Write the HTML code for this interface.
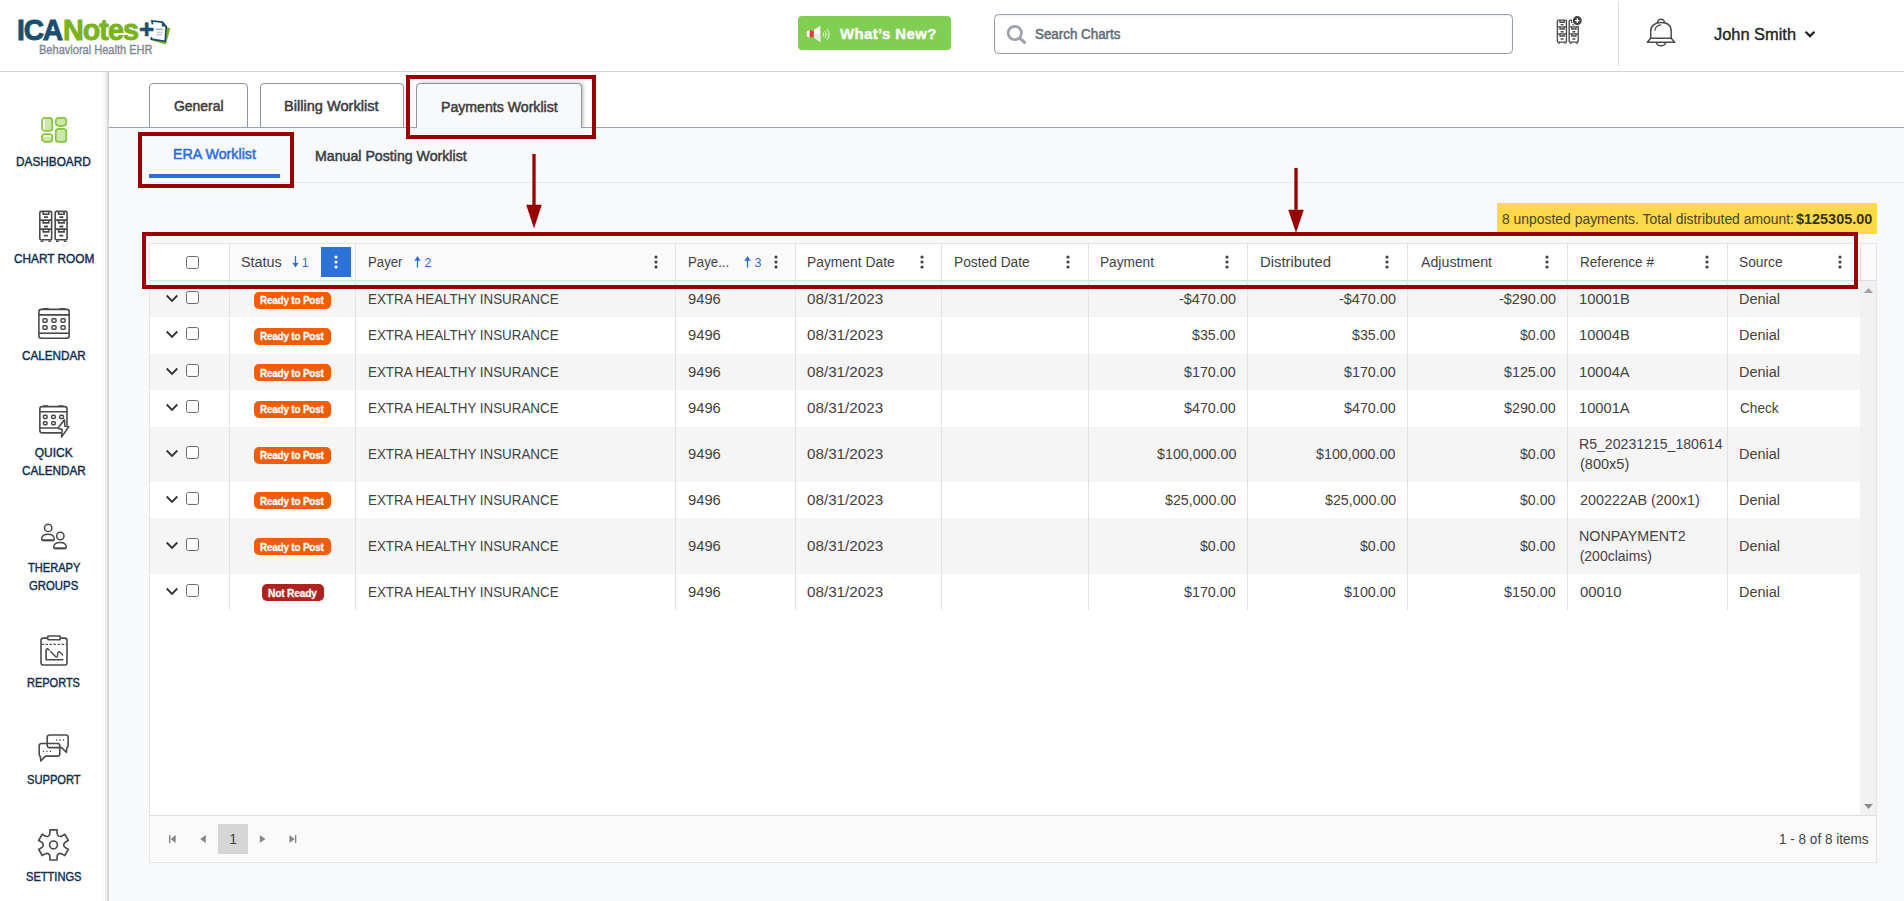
<!DOCTYPE html>
<html lang="en"><head><meta charset="utf-8"><title>ICANotes - Payments Worklist</title>
<style>
*{box-sizing:border-box;margin:0;padding:0}
html,body{width:1904px;height:901px;overflow:hidden;background:#f8f9fb;font-family:"Liberation Sans",sans-serif;color:#424242;font-size:14px}
#app{position:relative;width:1904px;height:901px;overflow:hidden;background:#f8f9fb}
.t{position:absolute;white-space:pre;line-height:1;transform-origin:0 50%;display:block}
.a{position:absolute;display:block}
.hdr{left:0;top:0;width:1904px;height:72px;background:#fff;border-bottom:1px solid #d4d4d4}
.side{left:0;top:72px;width:109px;height:829px;background:linear-gradient(to right,#fff 0,#fff 102px,#fbfbfb 104px,#ececec 106.5px,#d6d6d6 108px,#cecece 109px)}
.main{left:109px;top:72px;width:1795px;height:829px;background:#f8f9fb}
.strip{left:109px;top:72px;width:1795px;height:55px;background:#fff}
.stripline{left:109px;top:127px;width:1795px;height:1px;background:#98a1a9}
.tab{top:83px;height:45px;border:1px solid #8d969e;border-bottom:0;border-radius:4.500px 4.500px 0 0;background:#fff}
.tab.on{background:#f8f9fb;box-shadow:2px -1px 3px rgba(0,0,0,.2);height:45px}
.rb{border:4px solid #990000}
.cb{width:13px;height:13px;border:1px solid #6b6b6b;border-radius:2.5px;background:#fff}
.row{left:150px;width:1710px}
.vl{width:1px;background:#e2e2e2}
.badge{height:17px;border-radius:5px;background:#f25c05}
.dots{width:4px;height:14px}
</style></head>
<body><div id="app">
<div class="a side"></div>
<div class="a main"></div>
<div class="a strip"></div>
<header class="a hdr">
<span class="t" style="left:17.27px;top:15.00px;font-size:29.5px;font-weight:700;color:#1a4e6c;letter-spacing:-1.2px;transform:scaleX(0.9540);-webkit-text-stroke:.9px;">ICA</span>
<span class="t" style="left:63.14px;top:15.00px;font-size:29.5px;font-weight:700;color:#7ab31c;letter-spacing:-1px;transform:scaleX(0.9743);-webkit-text-stroke:.9px;">Notes</span>
<svg class="a" style="left:149.800px;top:18.700px" width="22" height="27" viewBox="0 0 22 27"><path d="M13 6 L20.400 9.400 L15.800 25.600 L2.500 21.600 L3 19 Z" fill="#7ab31c"/><path d="M1.900 2 L12.400 3.100 L16.200 7.500 L15.200 22.300 L1.200 20.200 Z" fill="#fff"/><path d="M2.500 5.400 L1.900 2 L12.400 3.100 L16.200 7.500 L15.200 22.300 L1.200 20.200 L1.600 18.200" fill="none" stroke="#1a4e6c" stroke-width="1.700" stroke-linejoin="miter"/><path d="M11.800 3 L16.200 7.600 H11.800 Z" fill="#1a4e6c"/><path d="M5.700 10.200 H12.800" stroke="#7f97ad" stroke-width="1.100"/><path d="M6.500 13.200 H12.800 M6.500 15.700 H12.500" stroke="#a9b9c8" stroke-width="1.100"/></svg>
<span class="t" style="left:139.05px;top:15.80px;font-size:26px;font-weight:700;color:#1a4e6c;-webkit-text-stroke:.6px;">+</span>
<span class="t" style="left:38.64px;top:44.00px;font-size:12.5px;color:#7f8b95;transform:scaleX(0.8831);-webkit-text-stroke:.4px;">Behavioral Health EHR</span>
<div class="a" style="left:798px;top:16px;width:153.300px;height:34px;background:#80cf53;border-radius:4px"></div>
<svg class="a" style="left:805px;top:24px" width="26" height="20" viewBox="0 0 26 20"><path d="M4.800 6.500 H3.500 Q1.800 6.500 1.800 8.200 V11.500 Q1.800 13.200 3.500 13.200 H4.800 Z" fill="#fff"/><rect x="4.700" y="6.500" width="4.300" height="6.700" fill="#e5393f"/><path d="M8.900 6 L15.300 1.800 V17.900 L8.900 13.700 Z" fill="#fff"/><path d="M8.900 9.850 H15.300 V17.900 L8.900 13.700 Z" fill="#e8e8e8"/><path d="M18 8.600 Q19.600 10.500 18 12.400 M20 6.900 Q22.600 10.500 20 14.100 M22.300 5.300 Q25.800 10.400 22.300 15.400" fill="none" stroke="#fff" stroke-width="1" opacity=".92"/></svg>
<span class="t" style="left:839.76px;top:26.90px;font-size:14.3px;font-weight:700;color:#fff;letter-spacing:0.4px;transform:scaleX(1.0413);-webkit-text-stroke:.35px;">What’s New?</span>
<div class="a" style="left:994px;top:14px;width:519px;height:40px;background:#fff;border:1px solid #919da9;border-radius:4.500px;box-shadow:inset 0 1px 2px rgba(0,0,0,.08)"></div>
<svg class="a" style="left:1005px;top:23px" width="23" height="23" viewBox="0 0 23 23"><circle cx="9.800" cy="10" r="6.650" fill="none" stroke="#9aa3ad" stroke-width="2.700"/><path d="M14.600 14.800 L20.500 20.400" stroke="#9aa3ad" stroke-width="3"/></svg>
<span class="t" style="left:1034.76px;top:27.00px;font-size:14px;color:#5f6b76;transform:scaleX(0.9551);-webkit-text-stroke:.5px;">Search Charts</span>
<svg class="a" style="left:1556.0px;top:18.9px" width="23.71" height="25.64" viewBox="0 0 31 33" preserveAspectRatio="none" fill="none" stroke="#4a4a4a" stroke-width="1.75"><rect x="1.80" y="1.4" width="11.850" height="28.400" rx="1.300"/><path d="M1.80 10.1 H13.65 M1.80 19.1 H13.65 M5.20 1.4 V4.20 H10.70 V1.4 M5.20 10.1 V12.90 H10.70 V10.1 M5.20 19.1 V21.90 H10.70 V19.1"/><path d="M6.00 7.2 H9.90 M6.00 16.5 H9.90 M6.00 25.7 H9.90" stroke-width="1.800"/><path d="M3.20 30.500 V31.400 H4.80 V30.500 M11.00 30.500 V31.400 H12.60 V30.500" stroke-width="1.200"/><rect x="17.20" y="1.4" width="11.850" height="28.400" rx="1.300"/><path d="M17.20 10.1 H29.05 M17.20 19.1 H29.05 M20.60 1.4 V4.20 H26.10 V1.4 M20.60 10.1 V12.90 H26.10 V10.1 M20.60 19.1 V21.90 H26.10 V19.1"/><path d="M21.40 7.2 H25.30 M21.40 16.5 H25.30 M21.40 25.7 H25.30" stroke-width="1.800"/><path d="M18.60 30.500 V31.400 H20.20 V30.500 M26.40 30.500 V31.400 H28.00 V30.500" stroke-width="1.200"/></svg>
<svg class="a" style="left:1571px;top:14px" width="13" height="13" viewBox="0 0 13 13"><circle cx="6.300" cy="6.600" r="5.300" fill="#fff"/><circle cx="6.300" cy="6.600" r="4.500" fill="#3f3f3f"/><path d="M4 6.600 H8.600 M6.300 4.300 V8.900" stroke="#fff" stroke-width="1.300"/></svg>
<div class="a" style="left:1618px;top:2px;width:1px;height:64px;background:#dcdfe2"></div>
<svg class="a" style="left:1646px;top:17px" width="30" height="31" viewBox="0 0 30 31" fill="none" stroke="#4a4a4a" stroke-width="1.5" stroke-linejoin="round"><path d="M11.500 6.300 C11.500 1 18.500 1 18.500 6.300"/><path d="M4.7 21.3 V14.5 C4.7 8.5 9 5.600 15 5.600 C21 5.600 25.200 8.5 25.200 14.5 V21.3"/><path d="M4.7 21.3 H25.200 L28.700 25.300 H1.300 Z"/><path d="M10.300 25.300 A4.8 4.300 0 0 0 19.700 25.300"/><path d="M9 13.800 C9 10.400 11.500 8.200 15.300 7.900" stroke-width="1.1"/></svg>
<span class="t" style="left:1714.00px;top:26.70px;font-size:16px;color:#222;transform:scaleX(1.0246);-webkit-text-stroke:.35px;">John Smith</span>
<svg class="a" style="left:1803px;top:29px" width="13" height="10" viewBox="0 0 13 10"><path d="M2.500 2.700 L7 7.100 L11.500 2.700" fill="none" stroke="#222" stroke-width="2.200"/></svg>
</header>
<nav>
<svg class="a" style="left:40px;top:116px" width="28" height="28" viewBox="0 0 28 28" fill="#cce7a6" stroke="#86c440" stroke-width="1.7"><rect x="2" y="1.900" width="10.300" height="13.100" rx="3"/><rect x="15.700" y="1.900" width="10.600" height="7.900" rx="3"/><rect x="2" y="18.200" width="10.300" height="7.700" rx="3"/><rect x="15.700" y="12.800" width="10.600" height="13.100" rx="3"/><path d="M3.900 4.200 V12.700 M4 20 H10.300" stroke="#fff" stroke-width="1.7" stroke-linecap="round"/></svg>
<svg class="a" style="left:38px;top:210.1px" width="31" height="33" viewBox="0 0 31 33" preserveAspectRatio="none" fill="none" stroke="#4a4a4a" stroke-width="1.6"><rect x="1.80" y="1.4" width="11.850" height="28.400" rx="1.300"/><path d="M1.80 10.1 H13.65 M1.80 19.1 H13.65 M5.20 1.4 V4.20 H10.70 V1.4 M5.20 10.1 V12.90 H10.70 V10.1 M5.20 19.1 V21.90 H10.70 V19.1"/><path d="M6.00 7.2 H9.90 M6.00 16.5 H9.90 M6.00 25.7 H9.90" stroke-width="1.800"/><path d="M3.20 30.500 V31.400 H4.80 V30.500 M11.00 30.500 V31.400 H12.60 V30.500" stroke-width="1.200"/><rect x="17.20" y="1.4" width="11.850" height="28.400" rx="1.300"/><path d="M17.20 10.1 H29.05 M17.20 19.1 H29.05 M20.60 1.4 V4.20 H26.10 V1.4 M20.60 10.1 V12.90 H26.10 V10.1 M20.60 19.1 V21.90 H26.10 V19.1"/><path d="M21.40 7.2 H25.30 M21.40 16.5 H25.30 M21.40 25.7 H25.30" stroke-width="1.800"/><path d="M18.60 30.500 V31.400 H20.20 V30.500 M26.40 30.500 V31.400 H28.00 V30.500" stroke-width="1.200"/></svg>
<svg class="a" style="left:38px;top:307px" width="33" height="33" viewBox="0 0 33 33" fill="none" stroke="#4a4a4a" stroke-width="1.6"><rect x=".9" y="2.400" width="30.300" height="28.800" rx="2.400"/><path d="M4.700 1.700 H10.800 M21.300 1.700 H27.400" stroke-width="1.400"/><path d="M.9 7.900 H31.200" stroke-width="1.800"/><path d="M.9 26.200 H31.200"/><g stroke-width="1.500"><rect x="4.950" y="11.750" width="4.100" height="3.500" rx="1"/><rect x="13.950" y="11.750" width="4.100" height="3.500" rx="1"/><rect x="23.050" y="11.750" width="4.100" height="3.500" rx="1"/><rect x="4.950" y="18.850" width="4.100" height="3.400" rx="1"/><rect x="13.950" y="18.850" width="4.100" height="3.400" rx="1"/><rect x="23.050" y="18.850" width="4.100" height="3.400" rx="1"/></g></svg>
<svg class="a" style="left:38px;top:404.5px" width="33" height="34" viewBox="0 0 33 34" fill="none" stroke="#4a4a4a" stroke-width="1.6"><path d="M29 20.700 V3.900 a2.300 2.300 0 0 0 -2.300 -2.300 H4.150 a2.300 2.300 0 0 0 -2.300 2.300 V25.600 a2.300 2.300 0 0 0 2.300 2.300 H23.200"/><path d="M4.900 .9 H10.100 M20.100 .9 H25.700" stroke-width="1.400"/><path d="M1.850 6.700 H29 M1.850 23 H19.600"/><g stroke-width="1.500"><rect x="5.450" y="10.350" width="3.600" height="3.100" rx=".9"/><rect x="13.750" y="10.350" width="3.500" height="3.100" rx=".9"/><rect x="21.750" y="10.350" width="3.700" height="3.100" rx=".9"/><rect x="5.450" y="16.750" width="3.600" height="2.900" rx=".9"/><rect x="13.750" y="16.750" width="3.500" height="2.900" rx=".9"/></g><path d="M26.400 14.700 L19.800 23.300 L24.200 24.500 L23.500 32.100 L30.800 21.800 L26.900 21.300 Z" fill="#fff" stroke-linejoin="round"/></svg>
<svg class="a" style="left:40px;top:521.5px" width="29" height="29" viewBox="0 0 29 29" fill="none" stroke="#4a4a4a" stroke-width="1.5"><circle cx="8.200" cy="5.900" r="3.700"/><path d="M1.700 17.200 C1.700 14 4.500 12.300 8 12.300 C11.500 12.300 14.300 14 14.300 17.200 Q14.300 18.400 13 18.400 H3 Q1.700 18.400 1.700 17.200 Z"/><path d="M2.500 18.200 H13.500" stroke-width="1.900"/><circle cx="20.300" cy="14" r="3.700"/><path d="M13.700 25.300 C13.700 22.100 16.500 20.400 20 20.400 C23.500 20.400 26.300 22.100 26.300 25.300 Q26.300 26.500 25 26.500 H15 Q13.700 26.500 13.700 25.300 Z"/><path d="M14.500 26.300 H25.500" stroke-width="1.900"/></svg>
<svg class="a" style="left:39px;top:634px" width="31" height="33" viewBox="0 0 31 33" fill="none" stroke="#4a4a4a" stroke-width="1.6" stroke-linejoin="round"><rect x="2" y="4.100" width="26" height="26.900" rx="2.300"/><rect x="8.800" y="2" width="12.400" height="3.800" rx=".6" fill="#fff"/><path d="M2.500 10.400 H27.500" stroke-dasharray="2.400 1.600" stroke-width="1.400"/><path d="M9.800 15.900 L8.600 14.700 Q7.100 14.700 7.100 16.300 V25.700 H23.800" stroke-linecap="round"/><path d="M11.500 17.400 L16.800 22.800 Q18.400 23.800 18.500 21.500 L18.700 19.300 Q19 17.400 20.500 17.700 L23.700 20.900" stroke-width="1.400" stroke-linecap="round"/></svg>
<svg class="a" style="left:37px;top:733px" width="34" height="30" viewBox="0 0 34 30" fill="none" stroke="#4a4a4a" stroke-width="1.6" stroke-linejoin="round"><path d="M12.400 2 H28.900 a2.200 2.200 0 0 1 2.200 2.200 V12.600 Q31.100 14.200 29.900 14.800 L29.300 19.300 L24.600 14.600 H12.400 a2.200 2.200 0 0 1 -2.200 -2.200 V4.200 a2.200 2.200 0 0 1 2.200 -2.200 Z"/><path d="M4.400 10.500 H20.600 a2.200 2.200 0 0 1 2.200 2.200 V20.900 a2.200 2.200 0 0 1 -2.200 2.200 H8.400 L3.800 28 L3.300 23.400 Q2.200 22.800 2.200 21 V12.700 a2.200 2.200 0 0 1 2.200 -2.200 Z"/><path d="M19.100 7 H20.300 M22.500 7 H23.700 M25.900 7 H27.100 M5.900 18.400 H7.100 M9.400 18.400 H10.600 M12.800 18.400 H14" stroke-width="1.300"/></svg>
<svg class="a" style="left:37px;top:828px" width="33" height="34" viewBox="0 0 33 34" fill="none" stroke="#4a4a4a" stroke-width="1.650" stroke-linejoin="round"><path d="M12.95 4.60 L12.95 1.80 L20.05 1.80 L20.05 4.60 C20.05 8.10 22.35 9.43 25.38 7.68 L27.80 6.28 L31.35 12.42 L28.93 13.82 C25.90 15.57 25.90 18.23 28.93 19.98 L31.35 21.38 L27.80 27.52 L25.38 26.12 C22.35 24.37 20.05 25.70 20.05 29.20 L20.05 32.00 L12.95 32.00 L12.95 29.20 C12.95 25.70 10.65 24.37 7.62 26.12 L5.20 27.52 L1.65 21.38 L4.07 19.98 C7.10 18.23 7.10 15.57 4.07 13.82 L1.65 12.42 L5.20 6.28 L7.62 7.68 C10.65 9.43 12.95 8.10 12.95 4.60 Z"/><circle cx="16.500" cy="16.900" r="3.900"/></svg>
<span class="t" style="left:16.36px;top:156.00px;font-size:12px;color:#0f2d4b;transform:scaleX(0.9840);-webkit-text-stroke:.4px;">DASHBOARD</span>
<span class="t" style="left:14.01px;top:253.00px;font-size:12px;color:#0f2d4b;transform:scaleX(0.9844);-webkit-text-stroke:.4px;">CHART ROOM</span>
<span class="t" style="left:22.01px;top:350.00px;font-size:12px;color:#0f2d4b;transform:scaleX(0.9767);-webkit-text-stroke:.4px;">CALENDAR</span>
<span class="t" style="left:34.75px;top:447.00px;font-size:12px;color:#0f2d4b;-webkit-text-stroke:.4px;">QUICK</span>
<span class="t" style="left:22.01px;top:465.20px;font-size:12px;color:#0f2d4b;transform:scaleX(0.9767);-webkit-text-stroke:.4px;">CALENDAR</span>
<span class="t" style="left:27.75px;top:562.00px;font-size:12px;color:#0f2d4b;transform:scaleX(0.9251);-webkit-text-stroke:.4px;">THERAPY</span>
<span class="t" style="left:29.28px;top:580.20px;font-size:12px;color:#0f2d4b;transform:scaleX(0.9463);-webkit-text-stroke:.4px;">GROUPS</span>
<span class="t" style="left:27.31px;top:677.20px;font-size:12px;color:#0f2d4b;transform:scaleX(0.9163);-webkit-text-stroke:.4px;">REPORTS</span>
<span class="t" style="left:27.07px;top:774.20px;font-size:12px;color:#0f2d4b;transform:scaleX(0.9287);-webkit-text-stroke:.4px;">SUPPORT</span>
<span class="t" style="left:26.27px;top:871.00px;font-size:12px;color:#0f2d4b;transform:scaleX(0.9244);-webkit-text-stroke:.4px;">SETTINGS</span>
</nav>
<main>
<div class="a tab" style="left:149px;top:83px;width:99px;"></div>
<div class="a tab" style="left:260px;top:83px;width:144px;"></div>
<div class="a stripline"></div>
<div class="a tab on" style="left:416px;top:83px;width:166px;"></div>
<span class="t" style="left:173.50px;top:98.60px;font-size:14px;color:#3d3d3d;transform:scaleX(0.9949);-webkit-text-stroke:.5px;">General</span>
<span class="t" style="left:284.22px;top:98.60px;font-size:14px;color:#3d3d3d;transform:scaleX(1.0416);-webkit-text-stroke:.5px;">Billing Worklist</span>
<span class="t" style="left:440.64px;top:100.00px;font-size:14px;color:#3d3d3d;transform:scaleX(1.0087);-webkit-text-stroke:.5px;">Payments Worklist</span>
<span class="t" style="left:172.84px;top:146.70px;font-size:14px;color:#2d6cdb;transform:scaleX(1.0185);-webkit-text-stroke:.5px;">ERA Worklist</span>
<span class="t" style="left:315.24px;top:149.00px;font-size:14px;color:#3d3d3d;transform:scaleX(1.0117);-webkit-text-stroke:.5px;">Manual Posting Worklist</span>
<div class="a " style="left:149px;top:174px;width:131px;height:4px;background:#2d6cdb;"></div>
<div class="a " style="left:149px;top:182px;width:1755px;height:1px;background:#e6e8eb;"></div>
<div class="a " style="left:1497px;top:203px;width:380px;height:31px;background:#fdd94b;"></div>
<span class="t" style="left:1502.20px;top:211.70px;font-size:14px;color:#48442b;transform:scaleX(0.9933);">8 unposted payments. Total distributed amount:</span>
<span class="t" style="left:1795.94px;top:211.70px;font-size:14px;font-weight:700;color:#33310f;transform:scaleX(1.0307);">$125305.00</span>
<div class="a " style="left:149px;top:243px;width:1728px;height:620px;border:1px solid #e4e4e4;background:#fff;"></div>
<div class="a " style="left:229px;top:244px;width:566px;height:36px;background:#fafafa;"></div>
<div class="a " style="left:1860px;top:244px;width:16px;height:36px;background:#fafafa;"></div>
<div class="a " style="left:150px;top:280px;width:1726px;height:1px;background:#dedede;"></div>
<div class="a " style="left:150px;top:281px;width:1710px;height:36.4px;background:#f5f5f5;"></div>
<div class="a " style="left:150px;top:353.8px;width:1710px;height:36.4px;background:#f5f5f5;"></div>
<div class="a " style="left:150px;top:426.6px;width:1710px;height:55.3px;background:#f5f5f5;"></div>
<div class="a " style="left:150px;top:518.3px;width:1710px;height:55.3px;background:#f5f5f5;"></div>
<div class="a vl" style="left:229px;top:244px;height:366px;"></div>
<div class="a vl" style="left:355px;top:244px;height:366px;"></div>
<div class="a vl" style="left:675px;top:244px;height:366px;"></div>
<div class="a vl" style="left:795px;top:244px;height:366px;"></div>
<div class="a vl" style="left:941px;top:244px;height:366px;"></div>
<div class="a vl" style="left:1088px;top:244px;height:366px;"></div>
<div class="a vl" style="left:1247px;top:244px;height:366px;"></div>
<div class="a vl" style="left:1407px;top:244px;height:366px;"></div>
<div class="a vl" style="left:1567px;top:244px;height:366px;"></div>
<div class="a vl" style="left:1727px;top:244px;height:366px;"></div>
<div class="a vl" style="left:1860px;top:244px;height:36px;"></div>
<div class="a " style="left:1860px;top:281px;width:16px;height:534px;background:#f1f1f1;"></div>
<svg class="a" style="left:1864px;top:288px" width="9" height="5" viewBox="0 0 9 5"><path d="M0 5 L4.5 0 L9 5 Z" fill="#a3a3a3"/></svg>
<svg class="a" style="left:1864px;top:803.5px" width="9" height="5" viewBox="0 0 9 5"><path d="M0 0 L4.5 5 L9 0 Z" fill="#8c8c8c"/></svg>
<div class="a cb" style="left:186px;top:256px;"></div>
<div class="a " style="left:321px;top:247px;width:30px;height:30px;background:#2d72d9;"></div>
<svg class="a" style="left:333.8px;top:254.5px" width="4" height="14" viewBox="0 0 4 14" fill="#fff"><circle cx="2" cy="2" r="1.600"/><circle cx="2" cy="7" r="1.600"/><circle cx="2" cy="12" r="1.600"/></svg>
<span class="t" style="left:241.23px;top:254.80px;font-size:14px;transform:scaleX(1.0260);">Status</span>
<svg class="a" style="left:291.8px;top:256px" width="7" height="11.500" viewBox="0 0 7 11.500"><g><path d="M3.500 0 V8" fill="none" stroke="#2d6cdb" stroke-width="1.300"/><path d="M.2 6.400 Q3.500 7.800 6.800 6.400 L3.500 11.500 Z" fill="#2d6cdb"/></g></svg>
<span class="t" style="left:301.80px;top:256.90px;font-size:12.4px;color:#2d6cdb;">1</span>
<span class="t" style="left:368.06px;top:254.80px;font-size:14px;transform:scaleX(0.9437);">Payer</span>
<svg class="a" style="left:414px;top:256px" width="7" height="11.500" viewBox="0 0 7 11.500"><g transform="rotate(180 3.500 5.750)"><path d="M3.500 0 V8" fill="none" stroke="#2d6cdb" stroke-width="1.300"/><path d="M.2 6.400 Q3.500 7.800 6.800 6.400 L3.500 11.500 Z" fill="#2d6cdb"/></g></svg>
<span class="t" style="left:424.50px;top:256.90px;font-size:12.4px;color:#2d6cdb;">2</span>
<svg class="a" style="left:653.5px;top:254.5px" width="4" height="14" viewBox="0 0 4 14" fill="#424242"><circle cx="2" cy="2" r="1.600"/><circle cx="2" cy="7" r="1.600"/><circle cx="2" cy="12" r="1.600"/></svg>
<span class="t" style="left:687.75px;top:254.80px;font-size:14px;transform:scaleX(0.9455);">Paye...</span>
<svg class="a" style="left:744px;top:256px" width="7" height="11.500" viewBox="0 0 7 11.500"><g transform="rotate(180 3.500 5.750)"><path d="M3.500 0 V8" fill="none" stroke="#2d6cdb" stroke-width="1.300"/><path d="M.2 6.400 Q3.500 7.800 6.800 6.400 L3.500 11.500 Z" fill="#2d6cdb"/></g></svg>
<span class="t" style="left:754.50px;top:256.90px;font-size:12.4px;color:#2d6cdb;">3</span>
<svg class="a" style="left:773.5px;top:254.5px" width="4" height="14" viewBox="0 0 4 14" fill="#424242"><circle cx="2" cy="2" r="1.600"/><circle cx="2" cy="7" r="1.600"/><circle cx="2" cy="12" r="1.600"/></svg>
<span class="t" style="left:807.21px;top:254.80px;font-size:14px;transform:scaleX(0.9885);">Payment Date</span>
<svg class="a" style="left:919.5px;top:254.5px" width="4" height="14" viewBox="0 0 4 14" fill="#424242"><circle cx="2" cy="2" r="1.600"/><circle cx="2" cy="7" r="1.600"/><circle cx="2" cy="12" r="1.600"/></svg>
<span class="t" style="left:954.02px;top:254.80px;font-size:14px;transform:scaleX(0.9828);">Posted Date</span>
<svg class="a" style="left:1066.2px;top:254.5px" width="4" height="14" viewBox="0 0 4 14" fill="#424242"><circle cx="2" cy="2" r="1.600"/><circle cx="2" cy="7" r="1.600"/><circle cx="2" cy="12" r="1.600"/></svg>
<span class="t" style="left:1100.22px;top:254.80px;font-size:14px;transform:scaleX(0.9770);">Payment</span>
<svg class="a" style="left:1225px;top:254.5px" width="4" height="14" viewBox="0 0 4 14" fill="#424242"><circle cx="2" cy="2" r="1.600"/><circle cx="2" cy="7" r="1.600"/><circle cx="2" cy="12" r="1.600"/></svg>
<span class="t" style="left:1259.94px;top:254.80px;font-size:14px;transform:scaleX(1.0615);">Distributed</span>
<svg class="a" style="left:1385px;top:254.5px" width="4" height="14" viewBox="0 0 4 14" fill="#424242"><circle cx="2" cy="2" r="1.600"/><circle cx="2" cy="7" r="1.600"/><circle cx="2" cy="12" r="1.600"/></svg>
<span class="t" style="left:1420.60px;top:254.80px;font-size:14px;transform:scaleX(1.0143);">Adjustment</span>
<svg class="a" style="left:1545.4px;top:254.5px" width="4" height="14" viewBox="0 0 4 14" fill="#424242"><circle cx="2" cy="2" r="1.600"/><circle cx="2" cy="7" r="1.600"/><circle cx="2" cy="12" r="1.600"/></svg>
<span class="t" style="left:1579.53px;top:254.80px;font-size:14px;transform:scaleX(0.9701);">Reference #</span>
<svg class="a" style="left:1705px;top:254.5px" width="4" height="14" viewBox="0 0 4 14" fill="#424242"><circle cx="2" cy="2" r="1.600"/><circle cx="2" cy="7" r="1.600"/><circle cx="2" cy="12" r="1.600"/></svg>
<span class="t" style="left:1739.26px;top:254.80px;font-size:14px;transform:scaleX(0.9814);">Source</span>
<svg class="a" style="left:1838px;top:254.5px" width="4" height="14" viewBox="0 0 4 14" fill="#424242"><circle cx="2" cy="2" r="1.600"/><circle cx="2" cy="7" r="1.600"/><circle cx="2" cy="12" r="1.600"/></svg>
<svg class="a" style="left:165px;top:294.2px" width="14" height="11" viewBox="0 0 14 11"><path d="M1.700 1.500 L7 6.900 L12.300 1.500" fill="none" stroke="#333" stroke-width="1.8"/></svg>
<div class="a cb" style="left:186px;top:291px;"></div>
<div class="a badge" style="left:254px;top:292px;width:77px;"></div>
<span class="t" style="left:260.35px;top:295.00px;font-size:11px;font-weight:700;color:#fff;letter-spacing:-0.2px;transform:scaleX(0.8993);-webkit-text-stroke:.3px;">Ready to Post</span>
<span class="t" style="left:368.24px;top:292.00px;font-size:14px;transform:scaleX(0.9558);">EXTRA HEALTHY INSURANCE</span>
<span class="t" style="left:687.91px;top:292.00px;font-size:14px;transform:scaleX(1.0521);">9496</span>
<span class="t" style="left:807.46px;top:292.00px;font-size:14px;transform:scaleX(1.0870);">08/31/2023</span>
<span class="t" style="left:1178.88px;top:292.00px;font-size:14px;transform:scaleX(1.0304);">-$470.00</span>
<span class="t" style="left:1338.78px;top:292.00px;font-size:14px;transform:scaleX(1.0304);">-$470.00</span>
<span class="t" style="left:1498.68px;top:292.00px;font-size:14px;transform:scaleX(1.0304);">-$290.00</span>
<span class="t" style="left:1579.35px;top:292.00px;font-size:14px;transform:scaleX(1.0538);">10001B</span>
<span class="t" style="left:1739.47px;top:292.00px;font-size:14px;transform:scaleX(1.0331);">Denial</span>
<svg class="a" style="left:165px;top:330.2px" width="14" height="11" viewBox="0 0 14 11"><path d="M1.700 1.500 L7 6.900 L12.300 1.500" fill="none" stroke="#333" stroke-width="1.8"/></svg>
<div class="a cb" style="left:186px;top:327px;"></div>
<div class="a badge" style="left:254px;top:328px;width:77px;"></div>
<span class="t" style="left:260.35px;top:331.00px;font-size:11px;font-weight:700;color:#fff;letter-spacing:-0.2px;transform:scaleX(0.8993);-webkit-text-stroke:.3px;">Ready to Post</span>
<span class="t" style="left:368.24px;top:328.00px;font-size:14px;transform:scaleX(0.9558);">EXTRA HEALTHY INSURANCE</span>
<span class="t" style="left:687.91px;top:328.00px;font-size:14px;transform:scaleX(1.0521);">9496</span>
<span class="t" style="left:807.46px;top:328.00px;font-size:14px;transform:scaleX(1.0870);">08/31/2023</span>
<span class="t" style="left:1192.35px;top:328.00px;font-size:14px;transform:scaleX(1.0167);">$35.00</span>
<span class="t" style="left:1352.25px;top:328.00px;font-size:14px;transform:scaleX(1.0167);">$35.00</span>
<span class="t" style="left:1520.25px;top:328.00px;font-size:14px;transform:scaleX(1.0102);">$0.00</span>
<span class="t" style="left:1579.35px;top:328.00px;font-size:14px;transform:scaleX(1.0538);">10004B</span>
<span class="t" style="left:1739.47px;top:328.00px;font-size:14px;transform:scaleX(1.0331);">Denial</span>
<svg class="a" style="left:165px;top:367.2px" width="14" height="11" viewBox="0 0 14 11"><path d="M1.700 1.500 L7 6.900 L12.300 1.500" fill="none" stroke="#333" stroke-width="1.8"/></svg>
<div class="a cb" style="left:186px;top:364px;"></div>
<div class="a badge" style="left:254px;top:364px;width:77px;"></div>
<span class="t" style="left:260.35px;top:368.00px;font-size:11px;font-weight:700;color:#fff;letter-spacing:-0.2px;transform:scaleX(0.8993);-webkit-text-stroke:.3px;">Ready to Post</span>
<span class="t" style="left:368.24px;top:365.00px;font-size:14px;transform:scaleX(0.9558);">EXTRA HEALTHY INSURANCE</span>
<span class="t" style="left:687.91px;top:365.00px;font-size:14px;transform:scaleX(1.0521);">9496</span>
<span class="t" style="left:807.46px;top:365.00px;font-size:14px;transform:scaleX(1.0870);">08/31/2023</span>
<span class="t" style="left:1184.24px;top:365.00px;font-size:14px;transform:scaleX(1.0211);">$170.00</span>
<span class="t" style="left:1344.14px;top:365.00px;font-size:14px;transform:scaleX(1.0211);">$170.00</span>
<span class="t" style="left:1504.04px;top:365.00px;font-size:14px;transform:scaleX(1.0211);">$125.00</span>
<span class="t" style="left:1579.35px;top:365.00px;font-size:14px;transform:scaleX(1.0476);">10004A</span>
<span class="t" style="left:1739.47px;top:365.00px;font-size:14px;transform:scaleX(1.0331);">Denial</span>
<svg class="a" style="left:165px;top:403.2px" width="14" height="11" viewBox="0 0 14 11"><path d="M1.700 1.500 L7 6.900 L12.300 1.500" fill="none" stroke="#333" stroke-width="1.8"/></svg>
<div class="a cb" style="left:186px;top:400px;"></div>
<div class="a badge" style="left:254px;top:401px;width:77px;"></div>
<span class="t" style="left:260.35px;top:404.00px;font-size:11px;font-weight:700;color:#fff;letter-spacing:-0.2px;transform:scaleX(0.8993);-webkit-text-stroke:.3px;">Ready to Post</span>
<span class="t" style="left:368.24px;top:401.00px;font-size:14px;transform:scaleX(0.9558);">EXTRA HEALTHY INSURANCE</span>
<span class="t" style="left:687.91px;top:401.00px;font-size:14px;transform:scaleX(1.0521);">9496</span>
<span class="t" style="left:807.46px;top:401.00px;font-size:14px;transform:scaleX(1.0870);">08/31/2023</span>
<span class="t" style="left:1184.24px;top:401.00px;font-size:14px;transform:scaleX(1.0211);">$470.00</span>
<span class="t" style="left:1344.14px;top:401.00px;font-size:14px;transform:scaleX(1.0211);">$470.00</span>
<span class="t" style="left:1504.04px;top:401.00px;font-size:14px;transform:scaleX(1.0211);">$290.00</span>
<span class="t" style="left:1579.35px;top:401.00px;font-size:14px;transform:scaleX(1.0476);">10001A</span>
<span class="t" style="left:1739.77px;top:401.00px;font-size:14px;transform:scaleX(0.9744);">Check</span>
<svg class="a" style="left:165px;top:449.2px" width="14" height="11" viewBox="0 0 14 11"><path d="M1.700 1.500 L7 6.900 L12.300 1.500" fill="none" stroke="#333" stroke-width="1.8"/></svg>
<div class="a cb" style="left:186px;top:446px;"></div>
<div class="a badge" style="left:254px;top:447px;width:77px;"></div>
<span class="t" style="left:260.35px;top:450.00px;font-size:11px;font-weight:700;color:#fff;letter-spacing:-0.2px;transform:scaleX(0.8993);-webkit-text-stroke:.3px;">Ready to Post</span>
<span class="t" style="left:368.24px;top:447.00px;font-size:14px;transform:scaleX(0.9558);">EXTRA HEALTHY INSURANCE</span>
<span class="t" style="left:687.91px;top:447.00px;font-size:14px;transform:scaleX(1.0521);">9496</span>
<span class="t" style="left:807.46px;top:447.00px;font-size:14px;transform:scaleX(1.0870);">08/31/2023</span>
<span class="t" style="left:1156.55px;top:447.00px;font-size:14px;transform:scaleX(1.0195);">$100,000.00</span>
<span class="t" style="left:1316.45px;top:447.00px;font-size:14px;transform:scaleX(1.0195);">$100,000.00</span>
<span class="t" style="left:1520.25px;top:447.00px;font-size:14px;transform:scaleX(1.0102);">$0.00</span>
<span class="t" style="left:1579.39px;top:437.00px;font-size:14px;transform:scaleX(1.0071);">R5_20231215_180614</span>
<span class="t" style="left:1579.62px;top:456.60px;font-size:14px;transform:scaleX(1.0383);">(800x5)</span>
<span class="t" style="left:1739.47px;top:447.00px;font-size:14px;transform:scaleX(1.0331);">Denial</span>
<svg class="a" style="left:165px;top:495.2px" width="14" height="11" viewBox="0 0 14 11"><path d="M1.700 1.500 L7 6.900 L12.300 1.500" fill="none" stroke="#333" stroke-width="1.8"/></svg>
<div class="a cb" style="left:186px;top:492px;"></div>
<div class="a badge" style="left:254px;top:492px;width:77px;"></div>
<span class="t" style="left:260.35px;top:496.00px;font-size:11px;font-weight:700;color:#fff;letter-spacing:-0.2px;transform:scaleX(0.8993);-webkit-text-stroke:.3px;">Ready to Post</span>
<span class="t" style="left:368.24px;top:493.00px;font-size:14px;transform:scaleX(0.9558);">EXTRA HEALTHY INSURANCE</span>
<span class="t" style="left:687.91px;top:493.00px;font-size:14px;transform:scaleX(1.0521);">9496</span>
<span class="t" style="left:807.46px;top:493.00px;font-size:14px;transform:scaleX(1.0870);">08/31/2023</span>
<span class="t" style="left:1164.65px;top:493.00px;font-size:14px;transform:scaleX(1.0166);">$25,000.00</span>
<span class="t" style="left:1324.55px;top:493.00px;font-size:14px;transform:scaleX(1.0166);">$25,000.00</span>
<span class="t" style="left:1520.25px;top:493.00px;font-size:14px;transform:scaleX(1.0102);">$0.00</span>
<span class="t" style="left:1579.63px;top:493.00px;font-size:14px;transform:scaleX(1.0261);">200222AB (200x1)</span>
<span class="t" style="left:1739.47px;top:493.00px;font-size:14px;transform:scaleX(1.0331);">Denial</span>
<svg class="a" style="left:165px;top:541.2px" width="14" height="11" viewBox="0 0 14 11"><path d="M1.700 1.500 L7 6.900 L12.300 1.500" fill="none" stroke="#333" stroke-width="1.8"/></svg>
<div class="a cb" style="left:186px;top:538px;"></div>
<div class="a badge" style="left:254px;top:538px;width:77px;"></div>
<span class="t" style="left:260.35px;top:542.00px;font-size:11px;font-weight:700;color:#fff;letter-spacing:-0.2px;transform:scaleX(0.8993);-webkit-text-stroke:.3px;">Ready to Post</span>
<span class="t" style="left:368.24px;top:539.00px;font-size:14px;transform:scaleX(0.9558);">EXTRA HEALTHY INSURANCE</span>
<span class="t" style="left:687.91px;top:539.00px;font-size:14px;transform:scaleX(1.0521);">9496</span>
<span class="t" style="left:807.46px;top:539.00px;font-size:14px;transform:scaleX(1.0870);">08/31/2023</span>
<span class="t" style="left:1200.45px;top:539.00px;font-size:14px;transform:scaleX(1.0102);">$0.00</span>
<span class="t" style="left:1360.35px;top:539.00px;font-size:14px;transform:scaleX(1.0102);">$0.00</span>
<span class="t" style="left:1520.25px;top:539.00px;font-size:14px;transform:scaleX(1.0102);">$0.00</span>
<span class="t" style="left:1579.38px;top:529.00px;font-size:14px;transform:scaleX(1.0219);">NONPAYMENT2</span>
<span class="t" style="left:1579.65px;top:548.60px;font-size:14px;">(200claims)</span>
<span class="t" style="left:1739.47px;top:539.00px;font-size:14px;transform:scaleX(1.0331);">Denial</span>
<svg class="a" style="left:165px;top:587.2px" width="14" height="11" viewBox="0 0 14 11"><path d="M1.700 1.500 L7 6.900 L12.300 1.500" fill="none" stroke="#333" stroke-width="1.8"/></svg>
<div class="a cb" style="left:186px;top:584px;"></div>
<div class="a badge" style="left:262px;top:584px;width:62px;background:#ae2320;"></div>
<span class="t" style="left:267.74px;top:588.30px;font-size:11px;font-weight:700;color:#fff;letter-spacing:-0.2px;transform:scaleX(0.9257);-webkit-text-stroke:.3px;">Not Ready</span>
<span class="t" style="left:368.24px;top:585.00px;font-size:14px;transform:scaleX(0.9558);">EXTRA HEALTHY INSURANCE</span>
<span class="t" style="left:687.91px;top:585.00px;font-size:14px;transform:scaleX(1.0521);">9496</span>
<span class="t" style="left:807.46px;top:585.00px;font-size:14px;transform:scaleX(1.0870);">08/31/2023</span>
<span class="t" style="left:1184.24px;top:585.00px;font-size:14px;transform:scaleX(1.0211);">$170.00</span>
<span class="t" style="left:1344.14px;top:585.00px;font-size:14px;transform:scaleX(1.0211);">$100.00</span>
<span class="t" style="left:1504.04px;top:585.00px;font-size:14px;transform:scaleX(1.0211);">$150.00</span>
<span class="t" style="left:1579.87px;top:585.00px;font-size:14px;transform:scaleX(1.0658);">00010</span>
<span class="t" style="left:1739.47px;top:585.00px;font-size:14px;transform:scaleX(1.0331);">Denial</span>
<div class="a " style="left:150px;top:815px;width:1726px;height:47px;background:#fafafa;border-top:1px solid #dedede;"></div>
<div class="a " style="left:218px;top:824px;width:30px;height:30px;background:#d6d6d6;"></div>
<span class="t" style="left:229.18px;top:831.80px;font-size:14px;">1</span>
<svg class="a" style="left:168px;top:834px" width="10" height="10" viewBox="0 0 10 10" fill="#868686"><rect x="1" y="1" width="1.400" height="8"/><path d="M7.700 1 V9 L2.600 5 Z"/></svg>
<svg class="a" style="left:199px;top:834px" width="8" height="10" viewBox="0 0 8 10" fill="#868686"><path d="M6.800 1 V9 L1.200 5 Z"/></svg>
<svg class="a" style="left:259px;top:834px" width="8" height="10" viewBox="0 0 8 10" fill="#868686"><path d="M.8 1 V9 L6.400 5 Z"/></svg>
<svg class="a" style="left:288px;top:834px" width="10" height="10" viewBox="0 0 10 10" fill="#868686"><rect x="6.900" y="1" width="1.400" height="8"/><path d="M1.500 1 V9 L6.600 5 Z"/></svg>
<span class="t" style="left:1778.73px;top:832.20px;font-size:14px;transform:scaleX(0.9670);">1 - 8 of 8 items</span>
<div class="a rb" style="left:406px;top:75px;width:190px;height:64px;"></div>
<div class="a rb" style="left:138px;top:132px;width:156px;height:56px;"></div>
<div class="a rb" style="left:142px;top:232px;width:1716px;height:57px;"></div>
<svg class="a" style="left:524.5px;top:154px" width="18" height="74.4" viewBox="0 0 18 74.4"><path d="M9 0 V52.80000000000001" stroke="#990000" stroke-width="3.3"/><path d="M1.200 50.80000000000001 H16.800 L9 74.4 Z" fill="#990000"/></svg>
<svg class="a" style="left:1287.3px;top:167.8px" width="18" height="64.79999999999998" viewBox="0 0 18 64.79999999999998"><path d="M9 0 V43.79999999999998" stroke="#990000" stroke-width="3.3"/><path d="M1.200 41.79999999999998 H16.800 L9 64.79999999999998 Z" fill="#990000"/></svg>
</main>
</div></body></html>
